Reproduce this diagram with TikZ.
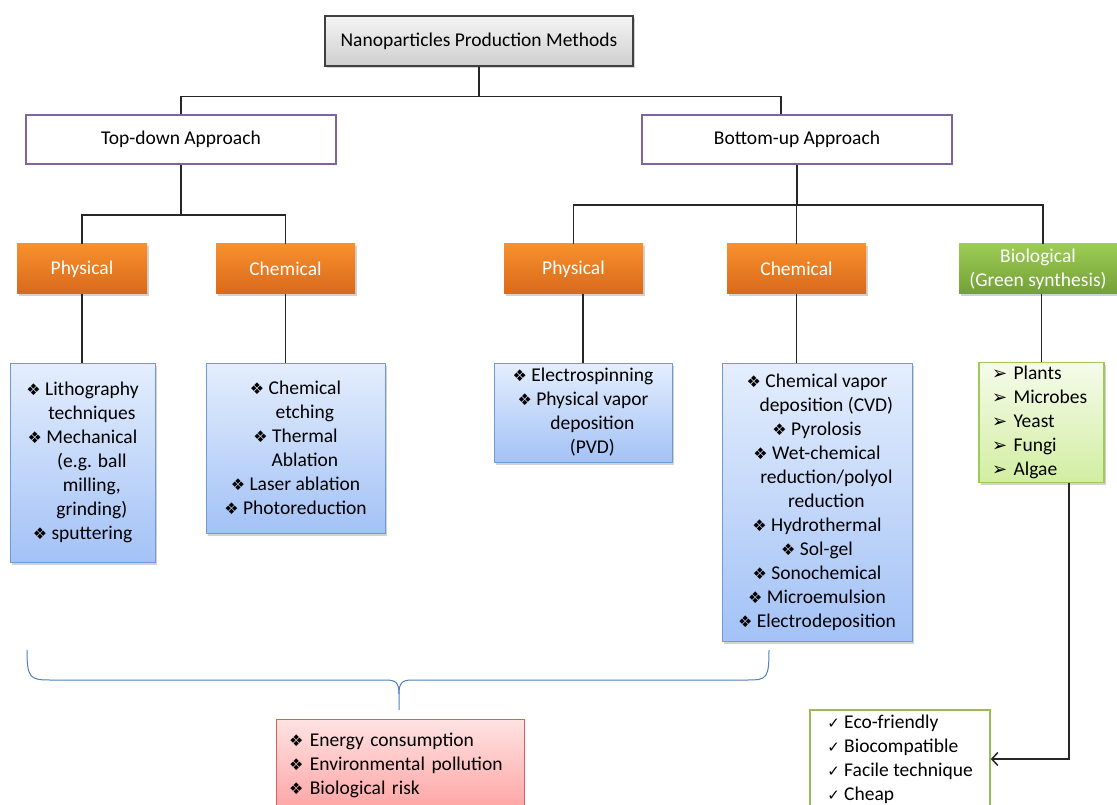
\documentclass[tikz,border=0pt]{standalone}
\usepackage{fontspec}
\setmainfont{Carlito}
\newfontfamily\symfont{DejaVu Sans}
\usetikzlibrary{shadows,arrows.meta}
\definecolor{apppurple}{HTML}{8064A2}
\definecolor{orTop}{HTML}{F8902C}
\definecolor{orBot}{HTML}{D8691C}
\definecolor{blTop}{HTML}{E4EEFD}
\definecolor{blBot}{HTML}{A3C2F6}
\definecolor{blEdge}{HTML}{6E9BD8}
\definecolor{bioTop}{HTML}{9DCC55}
\definecolor{bioBot}{HTML}{72A036}
\definecolor{glTop}{HTML}{F5FBEA}
\definecolor{glBot}{HTML}{D2EEA2}
\definecolor{glEdge}{HTML}{9CCB57}
\definecolor{rdTop}{HTML}{FFE3E3}
\definecolor{rdBot}{HTML}{FFA3A3}
\definecolor{rdEdge}{HTML}{D96060}
\definecolor{ecoEdge}{HTML}{9BBB59}
\definecolor{braceBlue}{HTML}{4F81BD}
\newcommand{\dia}{{\symfont\fontsize{16}{16}\selectfont ❖}\ }
\newcommand{\pdia}{\hphantom{\dia}}
\newcommand{\arr}{{\symfont\fontsize{18}{18}\selectfont ➢}\ }
\newcommand{\chk}{{\symfont\fontsize{15}{15}\selectfont ✓}\ }
\begin{document}
\begin{tikzpicture}[x=1pt,y=-1pt,
  font=\fontsize{19.5}{24}\selectfont,
  conn/.style={draw=black!85, line width=1.5pt},
  shad/.style={drop shadow={opacity=0.35,shadow xshift=1.5pt,shadow yshift=-2.5pt}},
  rootbox/.style={draw=black!75, line width=1.5pt, top color=gray!8, bottom color=gray!38, shad, minimum width=308pt, minimum height=50pt},
  appbox/.style={draw=apppurple, line width=2.2pt, fill=white, minimum width=310pt, minimum height=49pt},
  orbox/.style={top color=orTop, bottom color=orBot, text=white, shad, minimum height=50pt, inner sep=0pt},
  biobox/.style={top color=bioTop, bottom color=bioBot, text=white, shad, minimum height=50pt, inner sep=0pt, align=center},
  blbox/.style={top color=blTop, bottom color=blBot, draw=blEdge, line width=1pt, shad, align=center, inner sep=0pt},
  glbox/.style={top color=glTop, bottom color=glBot, draw=glEdge, line width=1.2pt, shad, align=left},
  redbox/.style={top color=rdTop, bottom color=rdBot, draw=rdEdge, line width=1pt, align=left},
  ecobox/.style={fill=white, draw=ecoEdge, line width=1.6pt, align=left},
  bracestyle/.style={draw=braceBlue, line width=1pt}
]
\useasboundingbox (0,0) rectangle (1117,805);
\clip (0,0) rectangle (1117,805);
\fill[white] (0,0) rectangle (1117,805);

% nodes
\node[rootbox] (root) at (479,41) {Nanoparticles Production Methods};
\node[appbox] (td) at (181,139.5) {Top-down Approach};
\node[appbox] (bu) at (797,139.5) {Bottom-up Approach};

\node[orbox, minimum width=130pt] (ptd) at (82,269) {Physical};
\node[orbox, minimum width=139pt] (ctd) at (285.5,269) {Chemical};
\node[orbox, minimum width=139pt] (pbu) at (573.5,269) {Physical};
\node[orbox, minimum width=139pt] (cbu) at (796.5,269) {Chemical};
\node[biobox, minimum width=158pt] (bio) at (1038,269) {Biological\\(Green synthesis)};

\node[blbox, minimum width=145pt, minimum height=199pt] (b1) at (82.5,462.5)
  {\dia Lithography\\\pdia techniques\\\dia Mechanical\\\pdia (e.g. ball\\\pdia milling,\\\pdia grinding)\\\dia sputtering};
\node[blbox, minimum width=179pt, minimum height=170pt] (b2) at (295.5,448)
  {\dia Chemical\\\pdia etching\\\dia Thermal\\\pdia Ablation\\\dia Laser ablation\\\dia Photoreduction};
\node[blbox, minimum width=178pt, minimum height=99pt] (b3) at (583,412.5)
  {\dia Electrospinning\\\dia Physical vapor\\\pdia deposition\\\pdia (PVD)};
\node[blbox, minimum width=190pt, minimum height=278pt] (b4) at (817,502)
  {\dia Chemical vapor\\\pdia deposition (CVD)\\\dia Pyrolosis\\\dia Wet-chemical\\\pdia reduction/polyol\\\pdia reduction\\\dia Hydrothermal\\\dia Sol-gel\\\dia Sonochemical\\\dia Microemulsion\\\dia Electrodeposition};

\node[glbox, minimum width=125pt, minimum height=119pt, text width=99pt, inner xsep=13pt] (gl) at (1041.5,422.5)
  {\arr Plants\\\arr Microbes\\\arr Yeast\\\arr Fungi\\\arr Algae};

\node[ecobox, minimum width=180pt, minimum height=98pt] (eco) at (900,759)
  {\chk Eco-friendly\\\chk Biocompatible\\\chk Facile technique\\\chk Cheap};

\node[redbox, minimum width=248pt, minimum height=92pt, text width=222pt, inner xsep=13pt] (risk) at (400,765)
  {\dia Energy consumption\\\dia Environmental pollution\\\dia Biological risk};

% connectors
\draw[conn] (root.south) -- ++(0,30) -| (td.north);
\draw[conn] (root.south) -- ++(0,30) -| ([xshift=-16pt]bu.north);
\draw[conn] (td.south) -- ++(0,50) -| (ptd.north);
\draw[conn] (td.south) -- ++(0,50) -| (ctd.north);
\draw[conn] (bu.south) -- ++(0,40) -| (pbu.north);
\draw[conn] (bu.south) -- ++(0,40) -| (cbu.north);
\draw[conn] (bu.south) -- ++(0,40) -| ([xshift=5pt]bio.north);
\draw[conn] (ptd.south) -- (ptd.south |- b1.north);
\draw[conn] (ctd.south) -- (ctd.south |- b2.north);
\draw[conn] (b3.north |- pbu.south) -- (b3.north);
\draw[conn] (cbu.south) -- (cbu.south |- b4.north);
\draw[conn] (gl.north |- bio.south) -- (gl.north);
\draw[conn, -{Straight Barb[length=6pt,width=13pt]}] ([xshift=27.5pt]gl.south) |- (eco.east);

% brace
\draw[bracestyle] (27,650) .. controls (27,678) and (30,680) .. (50,680)
  -- (386,680) .. controls (396,680) and (399,683) .. (399,694) -- (399,710);
\draw[bracestyle] (399,694) .. controls (399,683) and (402,680) .. (412,680)
  -- (748,680) .. controls (767,680) and (769,678) .. (769,650);
\end{tikzpicture}
\end{document}
